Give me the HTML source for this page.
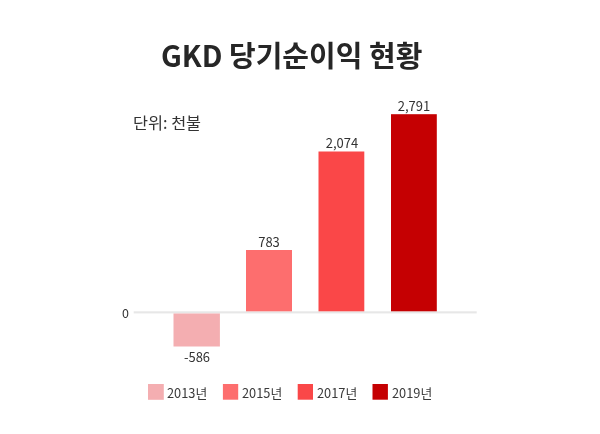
<!DOCTYPE html>
<html><head><meta charset="utf-8">
<style>
html,body{margin:0;padding:0;background:#fff;}
body{width:600px;height:434px;position:relative;overflow:hidden;font-family:"Liberation Sans","Noto Sans CJK KR",sans-serif;}
svg{position:absolute;left:0;top:0;}
.t{position:absolute;white-space:nowrap;will-change:transform;font-family:"Noto Sans CJK KR","Liberation Sans",sans-serif;line-height:1;}
#title{left:161px;top:40px;font-size:29px;font-weight:700;color:#262626;}
#unit{left:133px;top:114px;font-size:16.3px;color:#333;}
.lbl{position:absolute;will-change:transform;font-family:"Noto Sans CJK KR","Liberation Sans",sans-serif;font-size:13px;color:#333;line-height:1;white-space:nowrap;text-align:center;width:60px;}
#zero{left:122.3px;top:307px;font-size:12.5px;color:#333;}
.lg{top:387px;font-size:12.8px;color:#3a3a3a;}
</style></head><body>
<svg width="600" height="434" viewBox="0 0 600 434">
  <rect x="133.7" y="311.3" width="343" height="2.1" fill="#e7e7e7"/>
  <rect x="173.5" y="313.5" width="46.4" height="33" fill="#f4aeb1"/>
  <rect x="246" y="250" width="46" height="61.3" fill="#fd6e6e"/>
  <rect x="318.5" y="151.5" width="45.8" height="159.8" fill="#fa4748"/>
  <rect x="391" y="114.2" width="45.8" height="197.1" fill="#c50002"/>
  <rect x="148" y="384" width="15.8" height="15.8" fill="#f4aeb1"/>
  <rect x="222.9" y="384" width="15.3" height="15.7" fill="#fd6e6e"/>
  <rect x="297.7" y="384" width="15.3" height="15.7" fill="#fa4748"/>
  <rect x="372.5" y="384" width="15.4" height="15.7" fill="#c50002"/>
</svg>
<div class="t" id="title">GKD 당기순이익 현황</div>
<div class="t" id="unit">단위: 천불</div>
<div class="t" id="zero">0</div>

<div class="lbl" style="left:167px;top:350px">-586</div>
<div class="lbl" style="left:239px;top:235px">783</div>
<div class="lbl" style="left:311.5px;top:136px">2,074</div>
<div class="lbl" style="left:384px;top:99px">2,791</div>

<div class="t lg" style="left:167px">2013년</div>
<div class="t lg" style="left:242px">2015년</div>
<div class="t lg" style="left:316.8px">2017년</div>
<div class="t lg" style="left:391.6px">2019년</div>
</body></html>
